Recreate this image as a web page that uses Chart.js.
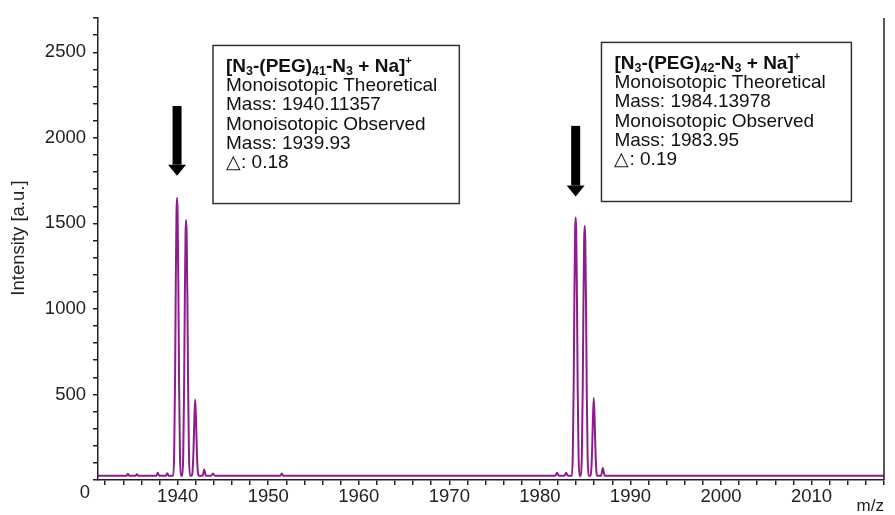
<!DOCTYPE html>
<html>
<head>
<meta charset="utf-8">
<script src="https://cdn.jsdelivr.net/npm/chart.js@4/dist/chart.umd.min.js"></script>
<style>
  html, body { margin: 0; padding: 0; background: #fff; }
</style>
</head>
<body>
<canvas id="myChart" width="895" height="515"></canvas>
<script>
// Spectrum (m/z vs intensity), baseline sits around 25
const mzValues = [
  1931.2, 1934.35, 1934.5, 1934.65, 1935.35, 1935.5, 1935.65, 1937.65, 1937.8, 1937.95, 1938.7, 1938.85, 1939.0,
  1939.51, 1939.61, 1939.71, 1939.79, 1939.87, 1939.93, 1939.99, 1940.07, 1940.15, 1940.25, 1940.35,
  1940.51, 1940.61, 1940.71, 1940.79, 1940.87, 1940.93, 1940.99, 1941.07, 1941.15, 1941.25, 1941.35,
  1941.55, 1941.65, 1941.75, 1941.83, 1941.93, 1942.03, 1942.11, 1942.21, 1942.31,
  1942.75, 1942.93, 1943.11,
  1943.7, 1943.9, 1944.1,
  1951.35, 1951.5, 1951.65,
  1981.7, 1981.9, 1982.1, 1982.7, 1982.9, 1983.1,
  1983.53, 1983.63, 1983.73, 1983.81, 1983.89, 1983.95, 1984.01, 1984.09, 1984.17, 1984.27, 1984.37,
  1984.53, 1984.63, 1984.73, 1984.81, 1984.89, 1984.95, 1985.01, 1985.09, 1985.17, 1985.27, 1985.37,
  1985.57, 1985.67, 1985.77, 1985.85, 1985.95, 1986.05, 1986.13, 1986.23, 1986.33,
  1986.75, 1986.95, 1987.15,
  2018
];
const intensityValues = [
  25, 25, 36, 25, 25, 34, 25, 25, 42, 25, 25, 40, 25,
  25, 150, 590, 1160, 1570, 1650, 1570, 1160, 590, 150, 25,
  25, 140, 545, 1070, 1445, 1520, 1445, 1070, 545, 140, 25,
  25, 55, 180, 340, 470, 340, 180, 55, 25,
  25, 62, 25,
  25, 38, 25,
  25, 38, 25,
  25, 42, 25, 25, 42, 25,
  25, 145, 550, 1080, 1460, 1535, 1460, 1080, 550, 145, 25,
  25, 140, 535, 1045, 1410, 1485, 1410, 1045, 535, 140, 25,
  25, 55, 185, 345, 480, 345, 185, 55, 25,
  25, 70, 25,
  25
];

// axes
const xMin = 1931.2, xMax = 2018, xStep = 2, xLabelEvery = 10;
const yMin = 0, yMax = 2700, yStep = 100, yLabelEvery = 500;
const yTitle = 'Intensity [a.u.]';
const xTitle = 'm/z';

// annotations: arrows over the monoisotopic peaks and the two text boxes
const arrowMz = [1939.93, 1983.95];
const arrowTop = [2186, 2070];
const arrowTip = [1779, 1657];

const boxLeft = [1943.9, 1986.8];
const boxRight = [1971.1, 2014.4];
const boxTop = [2540, 2558];
const boxBottom = [1616, 1628];
const boxTitles = [
  [['[N', 'n'], ['3', 'sub'], ['-(PEG)', 'n'], ['41', 'sub'], ['-N', 'n'], ['3', 'sub'], [' + Na]', 'n'], ['+', 'sup']],
  [['[N', 'n'], ['3', 'sub'], ['-(PEG)', 'n'], ['42', 'sub'], ['-N', 'n'], ['3', 'sub'], [' + Na]', 'n'], ['+', 'sup']]
];
const boxLines = [
  ['Monoisotopic Theoretical', 'Mass: 1940.11357', 'Monoisotopic Observed', 'Mass: 1939.93', '\u25B3: 0.18'],
  ['Monoisotopic Theoretical', 'Mass: 1984.13978', 'Monoisotopic Observed', 'Mass: 1983.95', '\u25B3: 0.19']
];

const FONT = "'Liberation Sans', Arial, sans-serif";
const axisColor = '#222';

// draws frame edge, arrows, label boxes, the y title and the corner "0"
const extras = {
  id: 'extras',
  afterDatasetsDraw(chart) {
    const ctx = chart.ctx;
    const xs = chart.scales.x, ys = chart.scales.y;
    const area = chart.chartArea;
    ctx.save();

    // right edge of frame
    ctx.strokeStyle = axisColor;
    ctx.lineWidth = 1.5;
    ctx.beginPath();
    ctx.moveTo(area.right, area.top);
    ctx.lineTo(area.right, area.bottom);
    ctx.stroke();

    // arrows
    ctx.fillStyle = '#000';
    for (let i = 0; i < arrowMz.length; i++) {
      const x = xs.getPixelForValue(arrowMz[i]);
      const y1 = ys.getPixelForValue(arrowTop[i]);
      const y2 = ys.getPixelForValue(arrowTip[i]);
      const headLen = 11, shaftW = 9, headW = 18;
      ctx.fillRect(x - shaftW / 2, y1, shaftW, y2 - y1 - headLen);
      ctx.beginPath();
      ctx.moveTo(x - headW / 2, y2 - headLen);
      ctx.lineTo(x + headW / 2, y2 - headLen);
      ctx.lineTo(x, y2);
      ctx.closePath();
      ctx.fill();
    }

    // text boxes
    const size = 19;
    for (let i = 0; i < boxLeft.length; i++) {
      const l = xs.getPixelForValue(boxLeft[i]);
      const r = xs.getPixelForValue(boxRight[i]);
      const t = ys.getPixelForValue(boxTop[i]);
      const b = ys.getPixelForValue(boxBottom[i]);
      ctx.fillStyle = '#fff';
      ctx.fillRect(l, t, r - l, b - t);
      ctx.strokeStyle = '#333';
      ctx.lineWidth = 1.5;
      ctx.strokeRect(l, t, r - l, b - t);

      ctx.fillStyle = '#111';
      ctx.textBaseline = 'middle';
      ctx.textAlign = 'left';
      let x = l + 13;
      let y = t + 21;
      boxTitles[i].forEach(([txt, kind]) => {
        let s = size, dy = 0;
        if (kind === 'sub') { s = 12.5; dy = 5; }
        if (kind === 'sup') { s = 11; dy = -6; }
        ctx.font = 'bold ' + s + 'px ' + FONT;
        ctx.fillText(txt, x, y + dy);
        x += ctx.measureText(txt).width;
      });
      ctx.font = size + 'px ' + FONT;
      boxLines[i].forEach((line, k) => {
        ctx.fillText(line, l + 13, y + 19.3 * (k + 1));
      });
    }

    // y axis title, sitting a little above the middle of the axis
    ctx.fillStyle = axisColor;
    ctx.font = '18.5px ' + FONT;
    ctx.textAlign = 'center';
    ctx.textBaseline = 'middle';
    ctx.translate(19, (area.top + area.bottom) / 2 - 11);
    ctx.rotate(-Math.PI / 2);
    ctx.fillText(yTitle, 0, 0);
    ctx.setTransform(1, 0, 0, 1, 0, 0);

    // shared origin label
    ctx.textAlign = 'right';
    ctx.fillText('0', area.left - 8, area.bottom + 13);
    ctx.restore();
  }
};

const points = mzValues.map((mz, i) => ({ x: mz, y: intensityValues[i] }));

new Chart(document.getElementById('myChart').getContext('2d'), {
  type: 'scatter',
  data: {
    datasets: [{
      data: points,
      showLine: true,
      borderColor: '#8b1e8b',
      borderWidth: 2,
      pointRadius: 0,
      // monotone keeps the peaks smooth and avoids the per-pixel fast path
      cubicInterpolationMode: 'monotone'
    }]
  },
  options: {
    responsive: false,
    animation: false,
    devicePixelRatio: 1,
    layout: { padding: { top: 15, right: 11, left: 0, bottom: 0 } },
    plugins: { legend: { display: false }, tooltip: { enabled: false } },
    scales: {
      x: {
        type: 'linear',
        min: xMin,
        max: xMax,
        afterFit: s => { s.height = 35; },
        border: { display: true, color: axisColor, width: 1.5 },
        grid: { drawOnChartArea: false, drawTicks: true, tickLength: 5, color: axisColor, lineWidth: 1.5 },
        ticks: {
          stepSize: xStep,
          autoSkip: false,
          includeBounds: false,
          maxRotation: 0,
          padding: 1,
          color: axisColor,
          font: { family: FONT, size: 18.5 },
          callback: v => (Math.abs(v % xLabelEvery) < 1e-6 ? String(v) : '')
        },
        title: {
          display: true,
          text: xTitle,
          align: 'end',
          color: axisColor,
          font: { family: FONT, size: 17, lineHeight: 1 },
          padding: 0
        }
      },
      y: {
        min: yMin,
        max: yMax,
        afterFit: s => { s.width = 98; },
        border: { display: true, color: axisColor, width: 1.5 },
        grid: { drawOnChartArea: false, drawTicks: true, tickLength: 5, color: axisColor, lineWidth: 1.5 },
        ticks: {
          stepSize: yStep,
          autoSkip: false,
          padding: 7,
          color: axisColor,
          font: { family: FONT, size: 18.5 },
          callback: v => (v !== 0 && v % yLabelEvery === 0 ? String(v) : '')
        }
      }
    }
  },
  plugins: [extras]
});
</script>
</body>
</html>
